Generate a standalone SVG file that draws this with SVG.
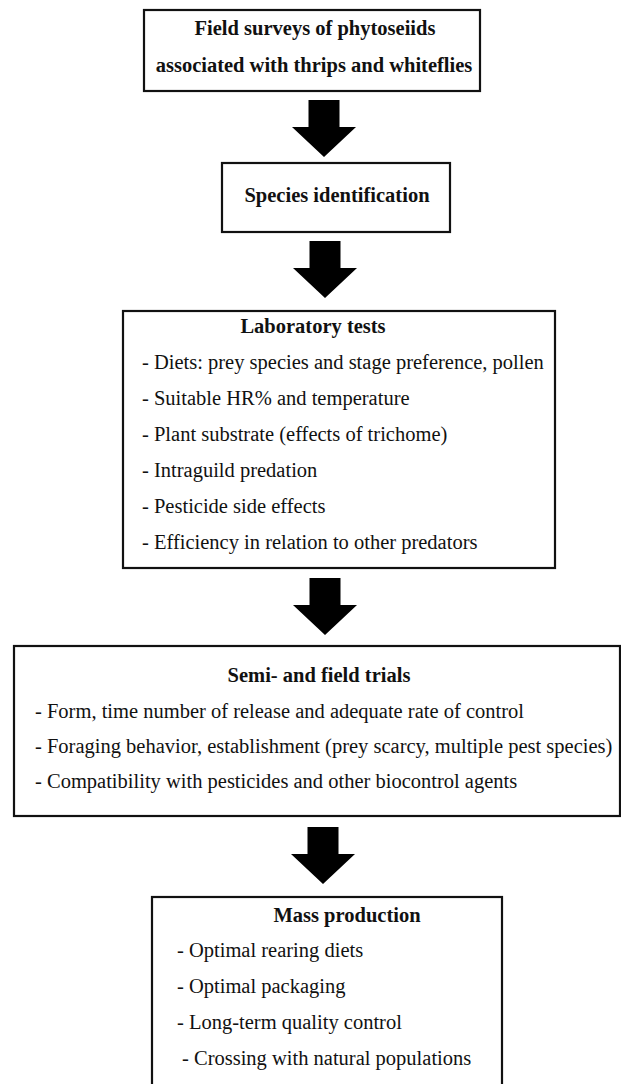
<svg xmlns="http://www.w3.org/2000/svg" width="621" height="1084" viewBox="0 0 621 1084">
<style>
.box{fill:#fff;stroke:#111;stroke-width:2.2}
.t{font-family:"Liberation Serif","Times New Roman",serif;font-size:20.5px;fill:#111}
.b{font-weight:bold;text-anchor:middle}
.arr{fill:#000}
</style>
<defs>
<path id="arrow" d="M-15.5,0 H15.5 V27 H32 L0,57 L-32,27 H-15.5 Z"/>
</defs>
<rect width="621" height="1084" fill="#fff"/>
<g id="connectors">
<use href="#arrow" class="arr" x="324" y="100"/>
<use href="#arrow" class="arr" x="325" y="241"/>
<use href="#arrow" class="arr" x="325" y="578"/>
<use href="#arrow" class="arr" x="323" y="827"/>
</g>
<g id="n1">
<rect class="box" x="144" y="10" width="336" height="81"/>
<text class="t b" x="315" y="35">Field surveys of phytoseiids</text>
<text class="t b" x="314" y="72">associated with thrips and whiteflies</text>
</g>
<g id="n2">
<rect class="box" x="222" y="163" width="228" height="69"/>
<text class="t b" x="337" y="202">Species identification</text>
</g>
<g id="n3">
<rect class="box" x="123" y="311" width="432" height="257"/>
<text class="t b" x="313" y="333">Laboratory tests</text>
<text class="t" x="142" y="369">- Diets: prey species and stage preference, pollen</text>
<text class="t" x="142" y="405">- Suitable HR% and temperature</text>
<text class="t" x="142" y="441">- Plant substrate (effects of trichome)</text>
<text class="t" x="142" y="477">- Intraguild predation</text>
<text class="t" x="142" y="513">- Pesticide side effects</text>
<text class="t" x="142" y="549">- Efficiency in relation to other predators</text>
</g>
<g id="n4">
<rect class="box" x="14" y="646" width="606" height="170"/>
<text class="t b" x="319" y="682">Semi- and field trials</text>
<text class="t" x="35" y="718">- Form, time number of release and adequate rate of control</text>
<text class="t" x="35" y="753">- Foraging behavior, establishment (prey scarcy, multiple pest species)</text>
<text class="t" x="35" y="788">- Compatibility with pesticides and other biocontrol agents</text>
</g>
<g id="n5">
<rect class="box" x="152" y="897" width="350" height="200"/>
<text class="t b" x="347" y="922">Mass production</text>
<text class="t" x="177" y="957">- Optimal rearing diets</text>
<text class="t" x="177" y="993">- Optimal packaging</text>
<text class="t" x="177" y="1029">- Long-term quality control</text>
<text class="t" x="182" y="1065">- Crossing with natural populations</text>
</g>
</svg>
